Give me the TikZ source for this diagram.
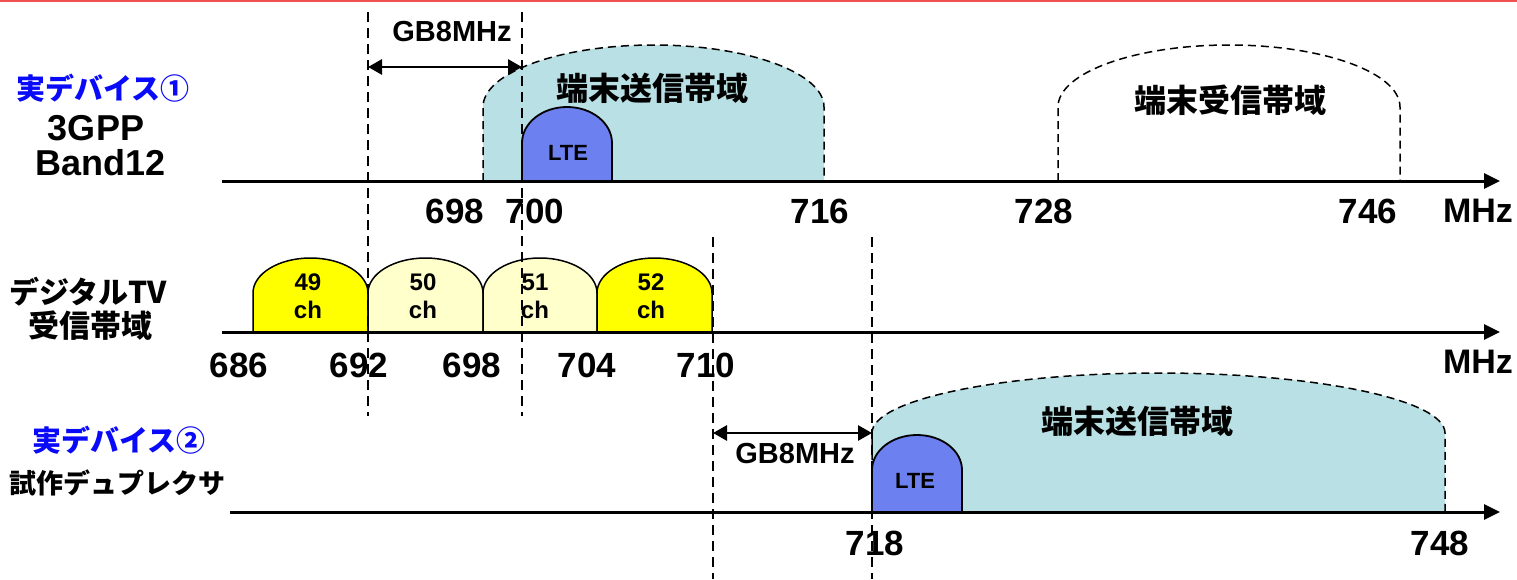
\documentclass[tikz,border=0pt]{standalone}
\usepackage{fontspec}
\setmainfont{Liberation Sans}
\newfontfamily\jp{Noto Sans CJK JP}
\usetikzlibrary{arrows.meta}
\definecolor{txfill}{RGB}{185,224,228}
\definecolor{ltefill}{RGB}{108,128,240}
\definecolor{chyel}{RGB}{255,255,0}
\definecolor{chpale}{RGB}{255,255,204}
\definecolor{lblblue}{RGB}{10,10,250}
\definecolor{topred}{RGB}{240,80,80}
\newcommand\mydome[6]{\path[#1] (#2,#4) -- (#2,#5) arc[start angle=180,end angle=360,x radius={(#3-#2)/2},y radius={#5-#6}] -- (#3,#4) -- cycle;}
\begin{document}
\begin{tikzpicture}[x=0.5pt,y=-0.5pt,
  axisline/.style={line width=1.5pt,-{Triangle[length=8pt,width=7.5pt]}},
  gbarrow/.style={line width=1.4pt,{Triangle[length=7pt,width=7.5pt]}-{Triangle[length=7pt,width=7.5pt]}},
  guide/.style={line width=0.75pt,dash pattern=on 5pt off 3pt},
  txband/.style={fill=txfill,draw=black,line width=0.75pt,dash pattern=on 4pt off 2.5pt},
  rxband/.style={fill=white,draw=black,line width=0.75pt,dash pattern=on 4pt off 2.5pt},
  lteband/.style={fill=ltefill,draw=black,line width=0.9pt},
  chy/.style={fill=chyel,draw=black,line width=0.75pt},
  chp/.style={fill=chpale,draw=black,line width=0.75pt},
  num/.style={inner sep=0pt,font=\bfseries\fontsize{17.5}{19}\selectfont},
  jlab/.style={inner sep=0pt,font=\jp\bfseries\fontsize{16}{18}\selectfont},
  chlab/.style={inner sep=0pt,font=\bfseries\fontsize{12}{13}\selectfont},
  ltelab/.style={inner sep=0pt,font=\bfseries\fontsize{11}{12}\selectfont},
  gblab/.style={inner sep=0pt,font=\bfseries\fontsize{14.5}{16}\selectfont},
]
\useasboundingbox (0,0) rectangle (1517,579);
\fill[topred] (0,0) rectangle (1517,2);

% bands
\mydome{txband}{483}{824}{181}{107}{45}
\mydome{rxband}{1058}{1400}{181}{107}{45}
\mydome{lteband}{522}{612}{181}{143}{107}
\mydome{chy}{253}{368}{332}{293}{258}
\mydome{chp}{368}{483}{332}{293}{258}
\mydome{chp}{483}{597}{332}{293}{258}
\mydome{chy}{597}{712}{332}{293}{258}
\mydome{txband}{872}{1445}{512}{433}{373}
\mydome{lteband}{872}{962}{512}{470}{435}

% axes
\coordinate (a1s) at (222,181); \coordinate (a1e) at (1500,181);
\coordinate (a2s) at (222,332); \coordinate (a2e) at (1500,332);
\coordinate (a3s) at (230,512); \coordinate (a3e) at (1500,512);
\draw[axisline] (a1s) -- (a1e);
\draw[axisline] (a2s) -- (a2e);
\draw[axisline] (a3s) -- (a3e);

% guides
\coordinate (gAt) at (368,12);  \coordinate (gAb) at (368,416);
\coordinate (gBt) at (522,12);  \coordinate (gBb) at (522,416);
\coordinate (gCt) at (713,237); \coordinate (gCb) at (713,579);
\coordinate (gDt) at (872,237); \coordinate (gDb) at (872,579);
\draw[guide] (gAt) -- (gAb);
\draw[guide] (gBt) -- (gBb);
\draw[guide] (gCt) -- (gCb);
\draw[guide] (gDt) -- (gDb);

% guard band arrows
\coordinate (gb1l) at (368,67); \coordinate (gb1r) at (522,67);
\coordinate (gb2l) at (713,433); \coordinate (gb2r) at (872,433);
\draw[gbarrow] (gb1l) -- (gb1r);
\draw[gbarrow] (gb2l) -- (gb2r);
\node[gblab] (gbt1) at (452,32) {GB8MHz};
\node[gblab] (gbt2) at (795,454) {GB8MHz};

% left labels
\node[jlab,text=lblblue,font=\jp\bfseries\fontsize{14.5}{16}\selectfont] (dev1) at (103,88) {実デバイス①};
\node[inner sep=0pt,font=\bfseries\fontsize{18}{20}\selectfont] (gpp) at (96,128) {3GPP};
\node[inner sep=0pt,font=\bfseries\fontsize{18}{20}\selectfont] (band) at (101,163) {Band12};
\node[jlab,font=\jp\bfseries\fontsize{15}{17}\selectfont] (dtv1) at (88,292) {デジタルTV};
\node[jlab,font=\jp\bfseries\fontsize{15.5}{17}\selectfont] (dtv2) at (90,326) {受信帯域};
\node[jlab,text=lblblue,font=\jp\bfseries\fontsize{14.5}{16}\selectfont] (dev2) at (119,440) {実デバイス②};
\node[jlab,font=\jp\bfseries\fontsize{13.5}{15}\selectfont] (dup) at (118,483) {試作デュプレクサ};

% band labels
\node[jlab] (tx1) at (652,88) {端末送信帯域};
\node[jlab] (rx1) at (1230,100) {端末受信帯域};
\node[jlab] (tx2) at (1137,421) {端末送信帯域};
\node[ltelab] (lte1) at (568,153) {LTE};
\node[ltelab] (lte2) at (915,481) {LTE};

% channel labels
\node[chlab] (c49) at (308,282) {49}; \node[chlab] (c49b) at (308,310) {ch};
\node[chlab] (c50) at (423,282) {50}; \node[chlab] (c50b) at (423,310) {ch};
\node[chlab] (c51) at (535,282) {51}; \node[chlab] (c51b) at (535,310) {ch};
\node[chlab] (c52) at (651,282) {52}; \node[chlab] (c52b) at (651,310) {ch};

% numbers axis 1
\node[num] (n698a) at (455,211) {698};
\node[num] (n700) at (535,211) {700};
\node[num] (n716) at (820,211) {716};
\node[num] (n728) at (1044,211) {728};
\node[num] (n746) at (1368,211) {746};
\node[num,font=\bfseries\fontsize{17}{19}\selectfont] (mhz1) at (1478,211) {MHz};
% numbers axis 2
\node[num] (n686) at (239,365) {686};
\node[num] (n692) at (359,365) {692};
\node[num] (n698b) at (472,365) {698};
\node[num] (n704) at (587,365) {704};
\node[num] (n710) at (706,365) {710};
\node[num,font=\bfseries\fontsize{17}{19}\selectfont] (mhz2) at (1478,362) {MHz};
% numbers axis 3
\node[num] (n718) at (875,543) {718};
\node[num] (n748) at (1440,543) {748};
\end{tikzpicture}
\end{document}
